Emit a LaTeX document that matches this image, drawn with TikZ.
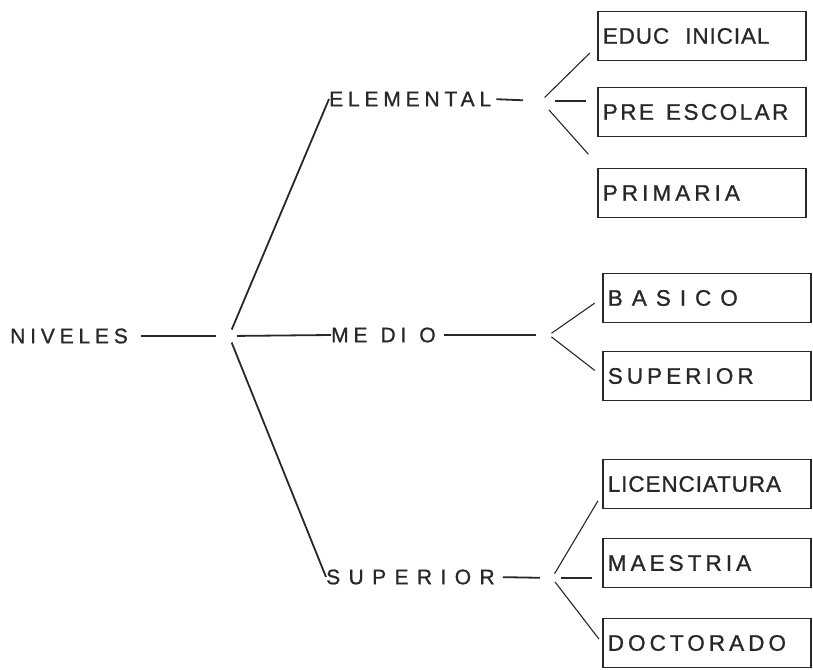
\documentclass[tikz,border=0pt]{standalone}
\usepackage{fontspec}
\newfontfamily\lvlfont{Liberation Sans}[LetterSpace=23,FakeBold=1]
\newfontfamily\widefont{Liberation Sans}[LetterSpace=40,FakeBold=1]
\newfontfamily\optfont{Liberation Sans}[LetterSpace=18,FakeBold=1]
\newfontfamily\midfont{Liberation Sans}[LetterSpace=11,FakeBold=1]
\newfontfamily\tightfont{Liberation Sans}[LetterSpace=4,FakeBold=1]
\usepackage{xcolor}
\usetikzlibrary{positioning,calc}
\definecolor{ink}{RGB}{40,40,40}
\newcommand{\gap}[1]{\rule{#1}{0pt}}
\tikzset{
  lvl/.style={anchor=west,inner sep=0pt,text=ink,font=\lvlfont\fontsize{21}{25}\selectfont},
  obox/.style={rectangle,draw=ink,line width=1.6pt,minimum height=49pt,
               text width=198pt,inner xsep=5pt,align=left,text=ink,
               font=\optfont\fontsize{22.5}{26}\selectfont},
  trunk/.style={draw=ink,line width=1.8pt},
  twig/.style={draw=ink,line width=1.1pt},
}
\begin{document}
\begin{tikzpicture}[x=1pt,y=-1pt]
  \useasboundingbox (0,0) rectangle (813,669);

  % --- raiz ---
  \node[lvl] (niv) at (10,336) {NIVELES};
  \coordinate (hub) at (229,336);

  % --- niveles ---
  \node[lvl] (ele) at (329,99) {ELEMENTAL};
  \node[lvl] (med) at (331,335) {ME\gap{13pt}DI\gap{13pt}O};
  \node[lvl] (sup) at (326,577) {\widefont\fontsize{21}{25}\selectfont SUPERIOR};

  \draw[trunk, shorten <=13pt, shorten >=13pt] (niv.east) -- (hub);
  \draw[trunk, shorten <=7pt] (hub) -- (ele.west);
  \draw[trunk, shorten <=8pt] (hub) -- (med.west);
  \draw[trunk, shorten <=7pt] (hub) -- (sup.west);

  % --- elemental ---
  \coordinate (fe) at (541,101);
  \node[obox, anchor=west] (educ) at (597,36)
    {\tightfont\fontsize{22.5}{26}\selectfont EDUC\gap{16pt}INICIAL};
  \node[obox, anchor=west] (pre) at (597,112)
    {\midfont\fontsize{22.5}{26}\selectfont PRE\gap{12pt}ESCOLAR};
  \node[obox, anchor=west] (prim) at (597,193) {PRIMARIA};

  \draw[trunk, shorten <=5pt, shorten >=18pt] (ele.east) -- (fe);
  \draw[twig, shorten <=5pt, shorten >=10pt] (fe) -- ($(educ.west)+(0,10)$);
  \draw[twig, shorten <=14pt, shorten >=11pt] (fe) -- (fe -| pre.west);
  \draw[twig, shorten <=12pt, shorten >=10pt] (fe) -- ($(prim.north west)+(-2,-6)$);

  % --- medio ---
  \coordinate (fm) at (549,335);
  \node[obox, anchor=west] (bas) at (602,298)
    {\widefont\fontsize{22.5}{26}\selectfont BASICO};
  \node[obox, anchor=west] (supb) at (602,376) {SUPERIOR};

  \draw[trunk, shorten <=8pt, shorten >=13pt] (med.east) -- (fm);
  \draw[twig, shorten <=3pt, shorten >=9pt] (fm) -- (bas.west);
  \draw[twig, shorten <=3pt, shorten >=9pt] (fm) -- (supb.west);

  % --- superior ---
  \coordinate (fs) at (552,578);
  \node[obox, anchor=west] (lic) at (602,484)
    {\tightfont\fontsize{22.5}{26}\selectfont LICENCIATURA};
  \node[obox, anchor=west] (mae) at (602,563) {MAESTRIA};
  \node[obox, anchor=west] (doc) at (602,643) {DOCTORADO};

  \draw[trunk, shorten <=8pt, shorten >=12pt] (sup.east) -- (fs);
  \draw[twig, shorten <=5pt, shorten >=8pt] (fs) -- ($(lic.west)+(0,10)$);
  \draw[twig, shorten <=9pt, shorten >=10pt] (fs) -- (fs -| mae.west);
  \draw[twig, shorten <=5pt, shorten >=5pt] (fs) -- (doc.west);
\end{tikzpicture}
\end{document}
